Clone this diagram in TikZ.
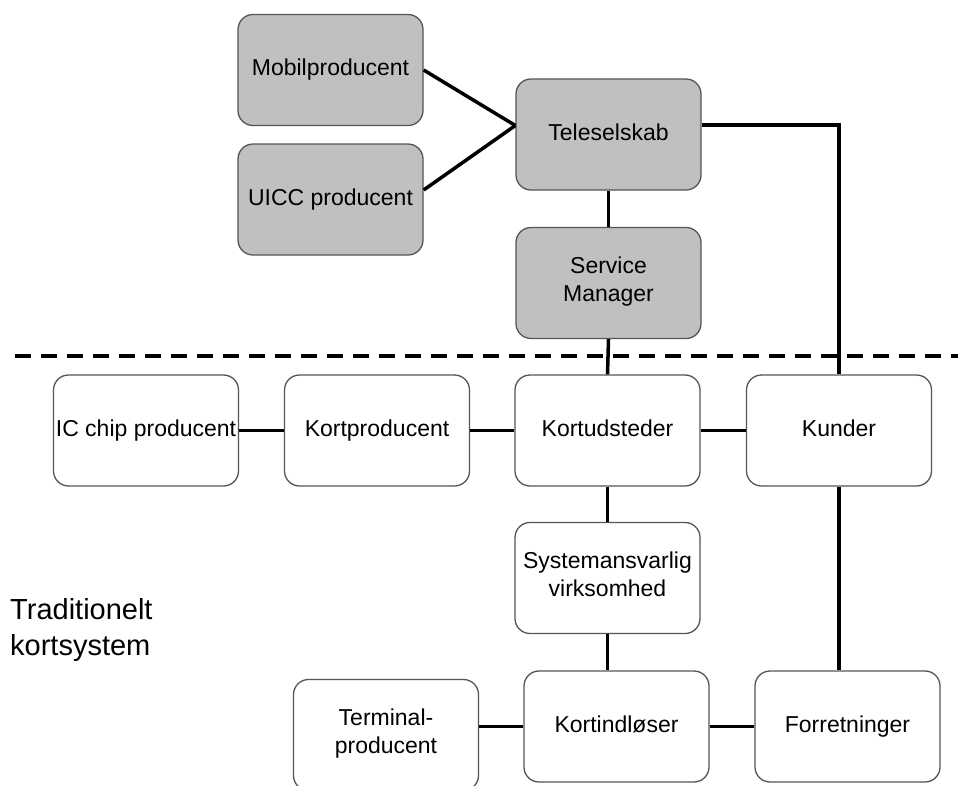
\documentclass[tikz,border=0pt]{standalone}
\usepackage{fontspec}
\setmainfont{Liberation Sans}
\definecolor{boxgray}{HTML}{C0C0C0}
\definecolor{edgegray}{HTML}{555555}
\begin{document}
\begin{tikzpicture}[x=1pt,y=-1pt,
  box/.style={draw=edgegray,line width=1.3pt,rounded corners=15pt,
    minimum width=185pt,minimum height=111pt,inner sep=1pt,align=center,
    font=\fontsize{23}{28}\selectfont,execute at begin node={\strut}},
  graybox/.style={box,fill=boxgray},
  whitebox/.style={box,fill=white},
  conn/.style={line width=3.5pt,black},
  sep/.style={line width=4pt,dash pattern=on 16pt off 10pt}]
\useasboundingbox (0,0) rectangle (964,785);
\clip (0,0) rectangle (964,785);
\fill[white] (0,0) rectangle (964,785);
% separator
\coordinate (sepL) at (15,356);
\coordinate (sepR) at (958,356);
\draw[sep] (sepL) -- (sepR);
% gray boxes
\node[graybox] (mob) at (330.5,70) {Mobilproducent};
\node[graybox] (uicc) at (330.5,199.5) {UICC producent};
\node[graybox] (tele) at (608.5,134.5) {Teleselskab};
\node[graybox] (sm) at (608.5,283) {Service\\Manager\strut};
% white boxes
\node[whitebox] (ic) at (146,430.5) {IC chip producent};
\node[whitebox] (kp) at (377,430.5) {Kortproducent};
\node[whitebox] (ku) at (607.5,430.5) {Kortudsteder};
\node[whitebox] (kd) at (839,430.5) {Kunder};
\node[whitebox] (sys) at (607.5,578) {Systemansvarlig\\virksomhed\strut};
\node[whitebox] (term) at (386,735) {Terminal-\\producent\strut};
\node[whitebox] (kin) at (616.5,726.5) {Kortindløser};
\node[whitebox] (forr) at (847.5,726.5) {Forretninger};
% label
\node[anchor=west,align=left,inner sep=0pt,font=\fontsize{29}{36}\selectfont] (lbl) at (10,630) {Traditionelt\\kortsystem};
% connectors
\draw[conn] (mob.east) -- ([yshift=9pt]tele.west);
\draw[conn] ([yshift=9.5pt]uicc.east) -- ([yshift=9pt]tele.west);
\draw[conn] (tele.south) -- (sm.north);
\draw[conn] (sm.south) -- (ku.north);
\draw[conn] ([yshift=9.5pt]tele.east) -| (kd.north);
\draw[conn] (ic.east) -- (kp.west);
\draw[conn] (kp.east) -- (ku.west);
\draw[conn] (ku.east) -- (kd.west);
\draw[conn] (ku.south) -- (sys.north);
\draw[conn] (sys.south) -- (sys.south |- kin.north);
\draw[conn] (kd.south) -- (kd.south |- forr.north);
\draw[conn] (term.east |- kin.west) -- (kin.west);
\draw[conn] (kin.east) -- (forr.west);
\end{tikzpicture}
\end{document}
